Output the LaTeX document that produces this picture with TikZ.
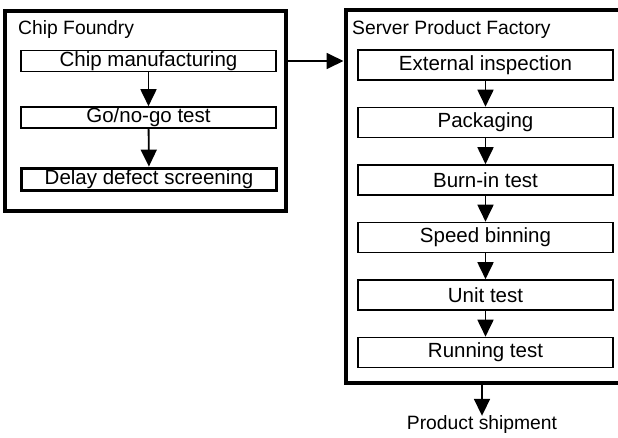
\documentclass[tikz,border=0pt]{standalone}
\usepackage{fontspec}
\setmainfont{Liberation Sans}
\usepackage{xcolor}
\usepackage{tikz}
\usetikzlibrary{positioning,arrows.meta}

\begin{document}
\begin{tikzpicture}[x=1pt, y=-1pt,
    stepbox/.style={draw, line width=1.6pt, minimum width=255.4pt, inner sep=0pt, font=\fontsize{20.5}{24}\selectfont},
    frame/.style={draw, line width=4pt, inner sep=0pt},
    label/.style={inner sep=0pt, font=\fontsize{19.3}{23}\selectfont},
    flow/.style={line width=1.8pt, -{Triangle[width=16pt,length=17pt]}}]
\useasboundingbox (0,0) rectangle (618,437);

% outer frames
\node[frame, minimum width=281pt, minimum height=200pt] (foundry) at (145.5,111) {};
\node[frame, minimum width=280pt, minimum height=373pt] (factory) at (485.5,196.5) {};
\node[label, anchor=base west] (foundry_lbl) at (18,34) {Chip Foundry};
\node[label, anchor=base west] (factory_lbl) at (352,34) {Server Product Factory};

% chip foundry steps
\node[stepbox, minimum height=21pt] (chip_mfg) at (148.5,61) {Chip manufacturing};
\node[stepbox, minimum height=21pt] (gonogo) at (148.5,117.5) {Go/no-go test};
\node[stepbox, line width=3.8pt, minimum width=255pt, minimum height=22pt] (delay) at (149,179.5) {Delay defect screening};

% server product factory steps
\node[stepbox, minimum height=30pt] (ext_insp) at (485.5,65) {External inspection};
\node[stepbox, minimum height=30pt] (packaging) at (485.5,122.5) {Packaging};
\node[stepbox, minimum height=30pt] (burnin) at (485.5,180) {Burn-in test};
\node[stepbox, minimum height=30pt] (speed) at (485.5,237.5) {Speed binning};
\node[stepbox, minimum height=30pt] (unit) at (485.5,295) {Unit test};
\node[stepbox, minimum height=30pt] (running) at (485.5,352.5) {Running test};

\node[label] (ship) at (482,425) {Product shipment};

\draw[flow] (chip_mfg) -- (gonogo);
\draw[flow] (gonogo) -- (delay);
\foreach \a/\b in {ext_insp/packaging, packaging/burnin, burnin/speed, speed/unit, unit/running}
    \draw[flow] (\a) -- (\b);

\draw[flow] (foundry.east |- chip_mfg) -- (factory.west |- chip_mfg);
\draw[flow] (ship |- factory.south) -- (ship.north);

\end{tikzpicture}
\end{document}
